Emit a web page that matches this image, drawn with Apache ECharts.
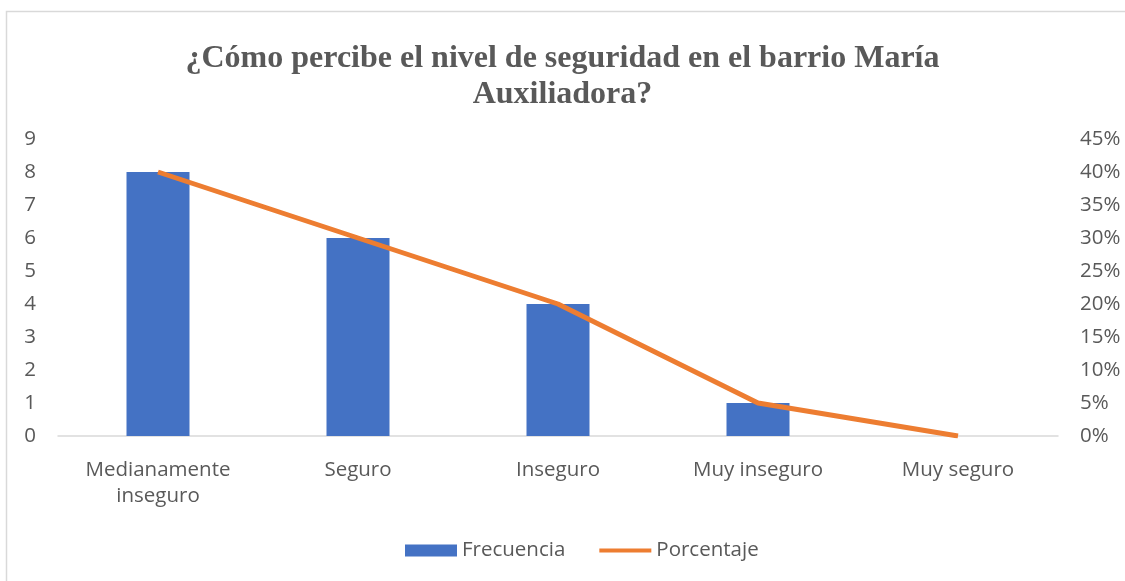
<!DOCTYPE html>
<html>
<head>
<meta charset="utf-8">
<script src="https://cdn.jsdelivr.net/npm/echarts@6/dist/echarts.min.js"></script>
<style>
  html, body { margin: 0; padding: 0; background: #fff; }
  #chart { width: 1125px; height: 581px; }
</style>
</head>
<body>
<div id="chart"></div>
<script>
// data
const categories = ['Medianamente\ninseguro', 'Seguro', 'Inseguro', 'Muy inseguro', 'Muy seguro'];
const frecuencia = [8, 6, 4, 1, 0];
const porcentaje = [40, 30, 20, 5, 0];

const labelFont = { color: '#595959', fontSize: 20.5, fontFamily: 'Open Sans, Noto Sans, sans-serif' };

const myChart = echarts.init(document.getElementById('chart'), null, { renderer: 'canvas' });

const option = {
    animation: false,
    backgroundColor: '#fff',
    title: {
        text: '¿Cómo percibe el nivel de seguridad en el barrio María\nAuxiliadora?',
        left: 'center',
        top: 36,
        textStyle: {
            color: '#595959',
            fontSize: 32,
            fontWeight: 'bold',
            fontFamily: 'Liberation Serif, serif',
            lineHeight: 36
        }
    },
    graphic: [{
        type: 'rect',
        shape: { x: 6.5, y: 11.5, width: 1140, height: 600 },
        style: { fill: 'none', stroke: '#d9d9d9', lineWidth: 1.5 },
        silent: true
    }],
    legend: {
        bottom: 15,
        left: 400,
        itemGap: 34,
        itemWidth: 52,
        itemHeight: 12,
        textStyle: { color: '#595959', fontSize: 20.5, fontFamily: 'Open Sans, Noto Sans, sans-serif' },
        data: [
            { name: 'Frecuencia', icon: 'rect' },
            { name: 'Porcentaje', icon: 'path://M0,4 L52,4 L52,8 L0,8 Z', itemStyle: { color: '#ED7D31' } }
        ]
    },
    grid: { left: 58, right: 67, top: 139, bottom: 145, containLabel: false },
    xAxis: {
        type: 'category',
        data: categories,
        axisLine: { lineStyle: { color: '#d9d9d9', width: 1.5 } },
        axisTick: { show: false },
        axisLabel: Object.assign({ margin: 21, lineHeight: 26, interval: 0 }, labelFont)
    },
    yAxis: [
        {
            type: 'value',
            min: 0, max: 9, interval: 1,
            splitLine: { show: false },
            axisLine: { show: false },
            axisTick: { show: false },
            axisLabel: Object.assign({ margin: 28, align: 'center' }, labelFont)
        },
        {
            type: 'value',
            min: 0, max: 45, interval: 5,
            splitLine: { show: false },
            axisLine: { show: false },
            axisTick: { show: false },
            axisLabel: Object.assign({ margin: 22, formatter: '{value}%' }, labelFont)
        }
    ],
    series: [
        {
            name: 'Frecuencia',
            type: 'bar',
            data: frecuencia,
            barWidth: 63,
            itemStyle: { color: '#4472C4' }
        },
        {
            name: 'Porcentaje',
            type: 'line',
            yAxisIndex: 1,
            data: porcentaje,
            symbol: 'none',
            lineStyle: { color: '#ED7D31', width: 5 },
            itemStyle: { color: '#ED7D31' }
        }
    ]
};

myChart.setOption(option);
</script>
</body>
</html>
